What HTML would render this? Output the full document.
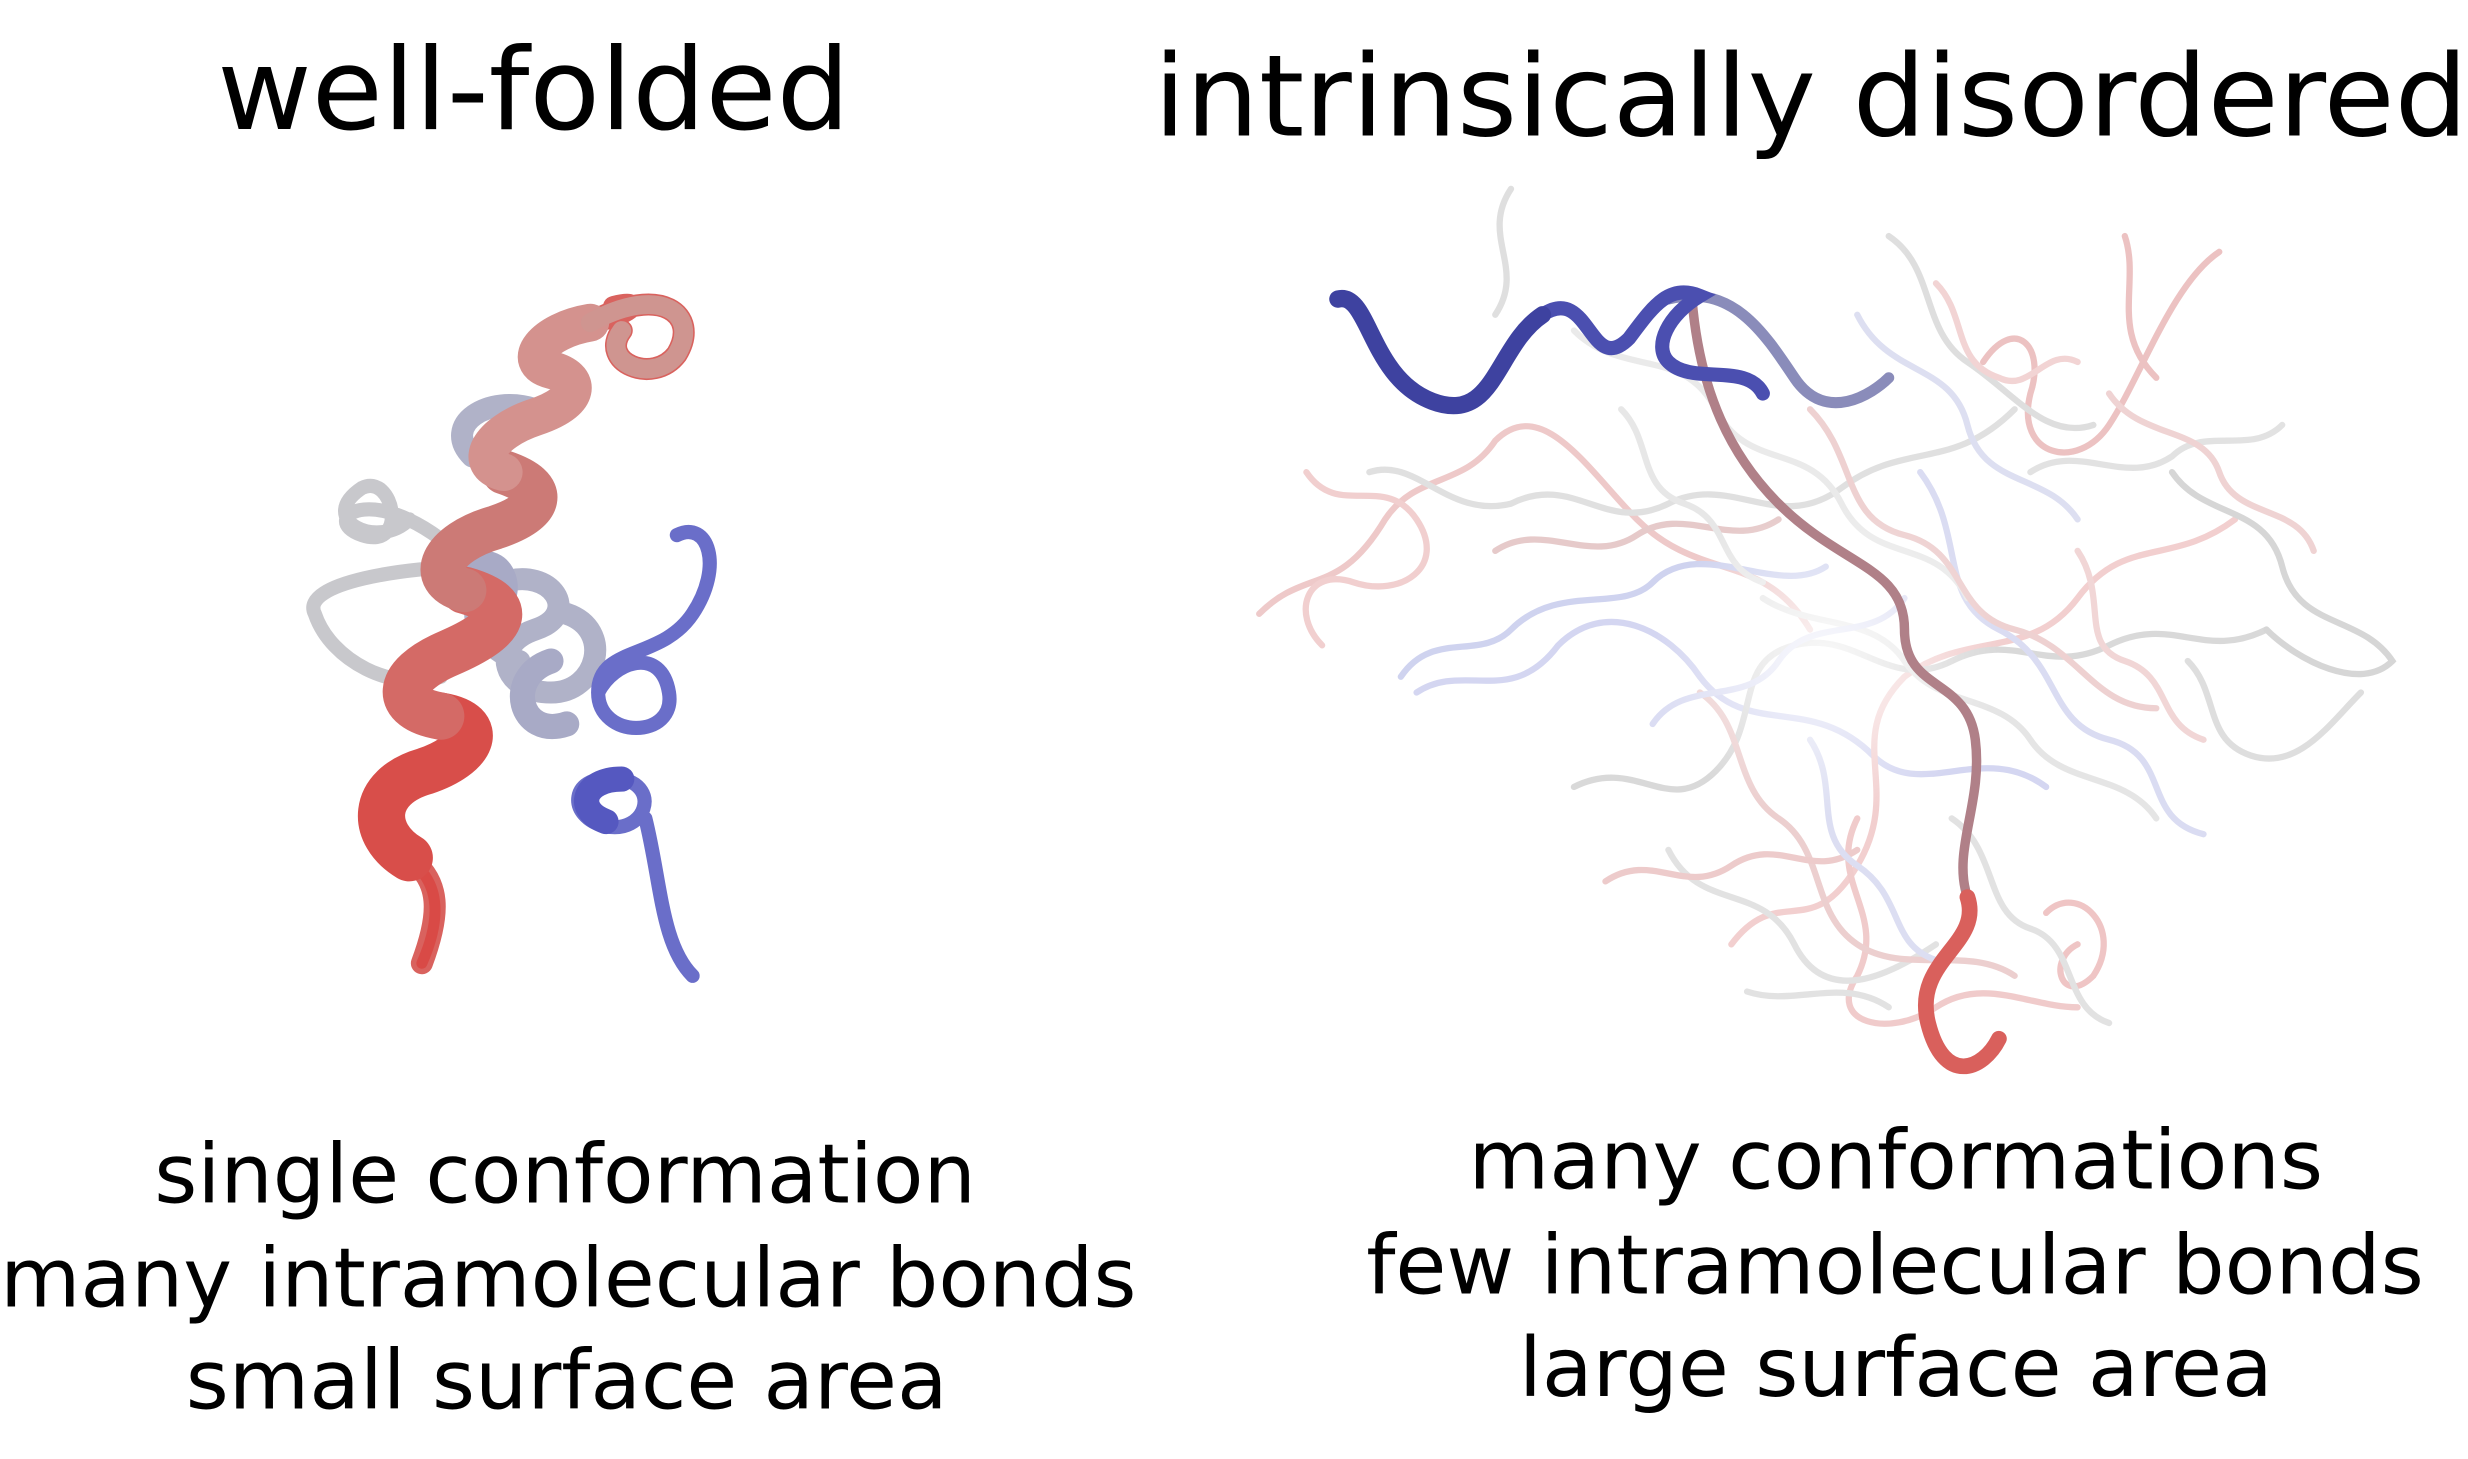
<!DOCTYPE html>
<html><head><meta charset="utf-8"><style>
html,body{margin:0;padding:0;background:#fff;}
svg{display:block;}
text{font-family:"DejaVu Sans","Liberation Sans",sans-serif;fill:#000;}
</style></head><body>
<svg width="2468" height="1459" viewBox="0 0 1568 927">
<defs>
<radialGradient id="fade" cx="0.5" cy="0.5" r="0.5"><stop offset="0" stop-color="#fff" stop-opacity="0.85"/><stop offset="1" stop-color="#fff" stop-opacity="0"/></radialGradient>
</defs>
<text x="138" y="82" font-size="72" textLength="402" lengthAdjust="spacingAndGlyphs">well-folded</text>
<text x="733" y="86" font-size="72" textLength="835" lengthAdjust="spacingAndGlyphs">intrinsically disordered</text>

<g fill="none" stroke-linecap="round">
 <path d="M300 360 C240 300 200 330 230 340 C260 350 250 300 230 310 C200 330 240 350 260 330 M300 360 C260 360 190 370 200 390 C210 420 250 440 280 430" stroke="#c8c8cc" stroke-width="9"/>
 <path d="M330 420 C300 410 290 380 320 370 C350 360 370 390 340 400 C310 410 320 440 350 440 C380 440 390 400 360 390 M340 260 C310 250 280 270 300 290" stroke="#b0b2c8" stroke-width="14"/>
 <path d="M360 460 C330 470 320 430 350 420 M300 360 C320 350 330 380 310 390" stroke="#a8aac6" stroke-width="16"/>
 <path d="M430 340 C450 330 460 360 440 390 C420 420 380 410 380 440 C380 470 430 470 425 440 C420 410 390 420 380 440 M395 495 C360 490 360 520 385 525 C410 530 420 500 395 495 M410 520 C420 560 420 600 440 620" stroke="#6a6ec9" stroke-width="9"/>
 <path d="M395 495 C370 495 365 515 385 522" stroke="#5558c0" stroke-width="16"/>
 <path d="M268 612 C280 580 280 560 260 545 C235 530 235 500 270 490 C300 480 310 460 280 455 C250 450 250 430 285 415 C320 400 330 385 295 375 C270 368 280 345 315 335 C345 325 350 310 320 300 C300 295 310 275 340 265 C370 255 370 240 350 235 C330 230 345 210 375 205 C400 200 410 190 390 195 M375 205 C420 180 445 200 430 225 C415 245 380 230 395 210" stroke="#d9625e" stroke-width="14"/>
 <path d="M268 612 C280 585 280 562 262 548" stroke="#d94a46" stroke-width="7"/>
 <path d="M260 545 C235 530 235 500 270 490 C300 480 310 460 280 455" stroke="#d84e4a" stroke-width="30"/>
 <path d="M280 455 C250 450 250 430 285 415 C320 400 330 385 295 375" stroke="#d46a66" stroke-width="30"/>
 <path d="M295 375 C270 368 280 345 315 335 C345 325 350 310 320 300" stroke="#cc7a76" stroke-width="28"/>
 <path d="M320 300 C300 295 310 275 340 265 C370 255 370 240 350 235 C330 230 345 210 375 205" stroke="#d4928e" stroke-width="24"/>
 <path d="M375 205 C420 180 445 200 430 225 C415 245 380 230 395 210" stroke="#cf9590" stroke-width="12"/>
</g>

<g fill="none" stroke-linecap="round" stroke-width="4" opacity="0.6">
 <path d="M800 390 C830 360 850 380 880 330 C900 300 930 310 950 280 C980 250 1010 300 1040 330 C1080 370 1120 350 1150 400" stroke="#e3a6a6"/>
 <path d="M900 440 C930 420 960 450 990 410 C1020 380 1060 400 1080 430 C1110 470 1150 440 1190 480 C1220 510 1260 470 1300 500" stroke="#b8bce8"/>
 <path d="M870 300 C900 290 920 330 960 320 C1000 300 1020 340 1060 320 C1100 300 1130 340 1170 310 C1210 280 1240 300 1280 260" stroke="#cccccc"/>
 <path d="M1100 600 C1130 560 1150 600 1180 550 C1210 500 1170 470 1210 430 C1250 400 1290 420 1320 380 C1350 340 1380 360 1420 330" stroke="#eab0b0"/>
 <path d="M1000 500 C1040 480 1060 520 1090 490 C1120 460 1100 420 1140 410 C1180 400 1200 440 1240 420 C1280 400 1300 430 1340 410 C1380 390 1400 420 1440 400" stroke="#c0c0c0"/>
 <path d="M1260 230 C1280 200 1300 220 1290 250 C1280 290 1320 300 1340 270 C1360 240 1380 180 1410 160 M1350 150 C1360 180 1340 210 1370 240" stroke="#e09a9a"/>
 <path d="M1180 520 C1160 560 1200 580 1180 620 C1160 650 1200 660 1230 640 C1260 620 1290 640 1320 640" stroke="#e7a9a9"/>
 <path d="M960 120 C940 150 970 170 950 200 M1200 150 C1230 170 1220 210 1250 230 C1280 250 1300 280 1330 270" stroke="#c9c9c9"/>
 <path d="M1380 300 C1400 330 1440 320 1450 360 C1460 400 1500 390 1520 420 C1500 440 1460 420 1440 400" stroke="#bbbbbb"/>
 <path d="M890 430 C910 400 940 420 960 400 C990 370 1030 390 1050 370 C1080 340 1130 380 1160 360" stroke="#b0b6e6"/>
 <path d="M1060 540 C1080 580 1120 560 1140 600 C1160 640 1200 620 1230 600 M1110 630 C1140 640 1170 620 1200 640" stroke="#d0d0d0"/>
 <path d="M830 300 C850 330 880 300 900 330 C920 360 890 380 860 370 C830 360 820 390 840 410" stroke="#e8b0b0"/>
 <path d="M1220 300 C1250 340 1230 380 1270 400 C1310 420 1300 460 1340 470 C1380 480 1360 520 1400 530" stroke="#c2c6ea"/>
 <path d="M1000 210 C1030 240 1070 220 1090 260 C1110 300 1150 280 1170 320 C1190 360 1230 340 1250 380" stroke="#dddddd"/>
 <path d="M1300 580 C1320 560 1350 590 1330 620 C1310 640 1300 610 1320 600" stroke="#e5a0a0"/>
 <path d="M1150 260 C1180 290 1170 330 1210 340 C1250 350 1240 390 1280 400 C1320 410 1330 450 1370 450" stroke="#e4b4b4"/>
 <path d="M1180 200 C1200 240 1240 230 1250 270 C1260 310 1300 300 1320 330" stroke="#c8cbe8"/>
 <path d="M1080 440 C1110 460 1100 500 1130 520 C1160 540 1150 580 1180 600 C1210 620 1250 600 1280 620" stroke="#e0b0b0"/>
 <path d="M1120 380 C1150 400 1190 390 1210 420 C1230 450 1270 440 1290 470 C1310 500 1350 490 1370 520" stroke="#d4d4d4"/>
 <path d="M950 350 C980 330 1010 360 1040 340 C1070 320 1100 350 1130 330" stroke="#d6a8a8"/>
 <path d="M1290 300 C1320 280 1350 310 1380 290 C1400 270 1430 290 1450 270" stroke="#d0d0d0"/>
 <path d="M1340 250 C1360 280 1400 270 1410 300 C1420 330 1460 320 1470 350" stroke="#e6b6b6"/>
 <path d="M1050 460 C1070 430 1110 450 1130 420 C1150 390 1190 410 1210 380" stroke="#c4c8ec"/>
 <path d="M1240 520 C1270 540 1260 580 1290 590 C1320 600 1310 640 1340 650" stroke="#cfcfcf"/>
 <path d="M1020 560 C1050 540 1070 570 1100 550 C1130 530 1150 560 1180 540" stroke="#e2aaaa"/>
 <path d="M1150 470 C1170 500 1150 530 1180 550 C1210 570 1200 600 1230 610" stroke="#c6c9ea"/>
 <path d="M1320 350 C1340 380 1320 410 1350 420 C1380 430 1370 460 1400 470" stroke="#e8bcbc"/>
 <path d="M1030 260 C1050 280 1040 310 1070 320 C1100 330 1090 360 1120 370" stroke="#d8d8d8"/>
 <path d="M1230 180 C1250 200 1240 230 1270 240 C1290 250 1300 220 1320 230" stroke="#eab8b8"/>
 <path d="M1390 420 C1410 440 1400 470 1430 480 C1460 490 1480 460 1500 440" stroke="#c9c9c9"/>
</g>
<ellipse cx="1160" cy="420" rx="110" ry="100" fill="url(#fade)"/>

<g fill="none" stroke-linecap="round">
 <path d="M1075 190 C1080 250 1100 290 1130 320 C1170 360 1210 360 1210 400 C1210 440 1250 430 1255 470 C1260 510 1240 540 1250 570 C1260 600 1215 610 1225 650 C1235 690 1260 680 1270 660" stroke="#b08088" stroke-width="6"/>
 <path d="M1250 570 C1260 600 1215 610 1225 650 C1235 690 1260 680 1270 660" stroke="#d9605c" stroke-width="10"/>
 <path d="M1060 190 C1100 180 1120 210 1140 240 C1160 270 1190 250 1200 240" stroke="#8a8cba" stroke-width="7"/>
 <path d="M850 190 C870 185 870 240 910 255 C950 270 950 220 980 200 C1010 180 1010 240 1035 215 C1050 195 1060 180 1080 188 C1060 200 1050 220 1060 230 C1075 245 1110 230 1120 250" stroke="#4b4fb0" stroke-width="9"/>
 <path d="M850 190 C870 185 870 240 910 255 C950 270 950 220 980 200" stroke="#3e42a0" stroke-width="11"/>
</g>

<text x="98" y="764" font-size="52" textLength="522" lengthAdjust="spacingAndGlyphs">single conformation</text>
<text x="0" y="830" font-size="52" textLength="722" lengthAdjust="spacingAndGlyphs">many intramolecular bonds</text>
<text x="118" y="895" font-size="52" textLength="484" lengthAdjust="spacingAndGlyphs">small surface area</text>
<text x="933" y="755" font-size="52" textLength="543" lengthAdjust="spacingAndGlyphs">many conformations</text>
<text x="868" y="822" font-size="52" textLength="672" lengthAdjust="spacingAndGlyphs">few intramolecular bonds</text>
<text x="965" y="887" font-size="52" textLength="479" lengthAdjust="spacingAndGlyphs">large surface area</text>
</svg>
</body></html>
